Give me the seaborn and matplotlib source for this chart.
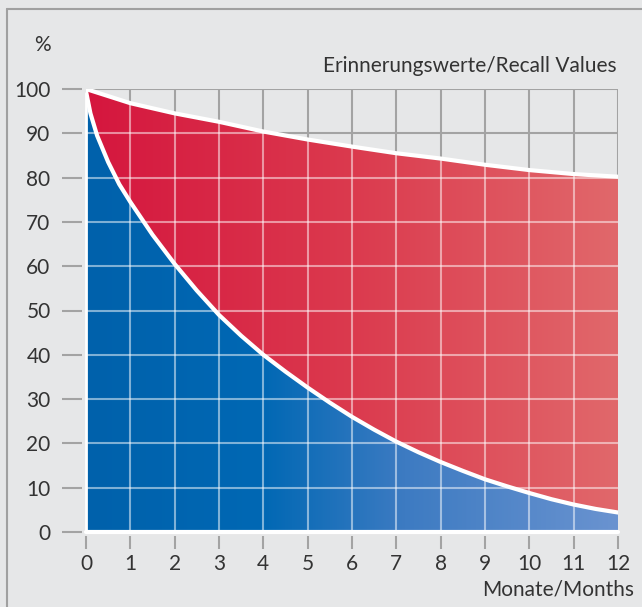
import numpy as np
import pandas as pd
import matplotlib
matplotlib.use("Agg")
import matplotlib.pyplot as plt
from matplotlib.colors import LinearSegmentedColormap
from matplotlib.lines import Line2D
import seaborn as sns

# Data
months_upper = [0, 1, 2, 3, 4, 5, 6, 7, 8, 9, 10, 11, 12]
recall_upper = [100, 96.8, 94.5, 92.6, 90.4, 88.6, 87.0, 85.5, 84.3, 82.9, 81.7, 80.8, 80.2]

months_lower = [0, 0.1, 0.25, 0.5, 0.75, 1, 1.5, 2, 2.5, 3, 3.5, 4, 4.5, 5, 5.5, 6, 6.5,
                7, 7.5, 8, 8.5, 9, 9.5, 10, 10.5, 11, 11.5, 12]
recall_lower = [99.5, 94.5, 89.5, 83.5, 78.5, 74.5, 67.1, 60.5, 54.5, 49, 44.3, 40, 36.2, 32.6,
                29.2, 26, 23.1, 20.4, 18.0, 15.8, 13.8, 11.9, 10.3, 8.8, 7.4, 6.2, 5.2, 4.4]

x_ticks = list(range(0, 13))
y_ticks = list(range(0, 101, 10))

upper_df = pd.DataFrame({"month": months_upper, "value": recall_upper})
lower_df = pd.DataFrame({"month": months_lower, "value": recall_lower})

sns.set_theme(style="white")
plt.rcParams["font.family"] = ["Lato", "DejaVu Sans"]

bg = "#e6e7e8"
grid_col = "#a3a3a3"
text_col = "#333333"
fs = 15

fig = plt.figure(figsize=(6.42, 6.07), dpi=100, facecolor=bg)
ax = fig.add_axes([86 / 642, 1 - 532 / 607, 532 / 642, 443 / 607])
ax.set_facecolor(bg)
ax.set_xlim(0, 12)
ax.set_ylim(0, 100)

# grey grid under everything
for xv in x_ticks:
    ax.axvline(xv, color=grid_col, lw=1.5, zorder=1)
for yv in y_ticks:
    ax.axhline(yv, color=grid_col, lw=1.5, zorder=1)

# colour gradients
red_cmap = LinearSegmentedColormap.from_list("red", ["#d5163e", "#db3a4e", "#e1686b"])
blue_cmap = LinearSegmentedColormap.from_list(
    "blue", [(0, "#0061ab"), (0.33, "#0068b4"), (0.6, "#3d7bc2"), (1, "#6a93d0")])

grad = np.linspace(0, 1, 256).reshape(1, -1)

red_poly = ax.fill_between(upper_df["month"], 0, upper_df["value"], color="none", lw=0, zorder=2)
red_img = ax.imshow(grad, cmap=red_cmap, extent=[0, 12, 0, 100], aspect="auto", zorder=2)
red_img.set_clip_path(red_poly.get_paths()[0], transform=ax.transData)

blue_poly = ax.fill_between(lower_df["month"], 0, lower_df["value"], color="none", lw=0, zorder=3)
blue_img = ax.imshow(grad, cmap=blue_cmap, extent=[0, 12, 0, 100], aspect="auto", zorder=3)
blue_img.set_clip_path(blue_poly.get_paths()[0], transform=ax.transData)

# light grid on top of the coloured areas
for xv in x_ticks[:-1]:
    ln = ax.axvline(xv, color="white", lw=1.5, alpha=0.5, zorder=4)
    ln.set_clip_path(red_poly.get_paths()[0], transform=ax.transData)
for yv in y_ticks:
    ln = ax.axhline(yv, color="white", lw=1.5, alpha=0.5, zorder=4)
    ln.set_clip_path(red_poly.get_paths()[0], transform=ax.transData)

# white boundary lines
sns.lineplot(data=upper_df, x="month", y="value", color="white", lw=3, ax=ax, zorder=5)
sns.lineplot(data=lower_df, x="month", y="value", color="white", lw=3, ax=ax, zorder=5)
ax.plot([0, 12], [0, 0], color="white", lw=3, zorder=5, clip_on=False)
ax.plot([0, 0], [0, 99], color="white", lw=2, zorder=5, clip_on=False)

for s in ax.spines.values():
    s.set_visible(False)
ax.spines["left"].set_position(("outward", 3))
ax.spines["bottom"].set_position(("outward", 3))

ax.set_xticks(x_ticks)
ax.set_yticks(y_ticks)
ax.tick_params(axis="y", length=14.5, width=1.5, color=grid_col, pad=8,
               labelsize=fs, labelcolor=text_col, left=True)
ax.tick_params(axis="x", length=9, width=1.5, color=grid_col, pad=4,
               labelsize=fs, labelcolor=text_col, bottom=True)
ax.set_xlabel("")
ax.set_ylabel("")

fig.text(42 / 642, 1 - 45 / 607, "%", ha="center", va="center", fontsize=fs, color=text_col)
fig.text(617 / 642, 1 - 66 / 607, "Erinnerungswerte/Recall Values", ha="right", va="center",
         fontsize=fs, color=text_col)
fig.text(634 / 642, 1 - 589 / 607, "Monate/Months", ha="right", va="center",
         fontsize=fs, color=text_col)

# frame lines top and left
fig.add_artist(Line2D([7 / 642, 7 / 642], [0, 1 - 9 / 607], color="#a0a0a0", lw=1.5,
                      transform=fig.transFigure))
fig.add_artist(Line2D([7 / 642, 1], [1 - 9 / 607, 1 - 9 / 607], color="#a0a0a0", lw=1.5,
                      transform=fig.transFigure))

fig.savefig("out.png", dpi=100, facecolor=bg)
